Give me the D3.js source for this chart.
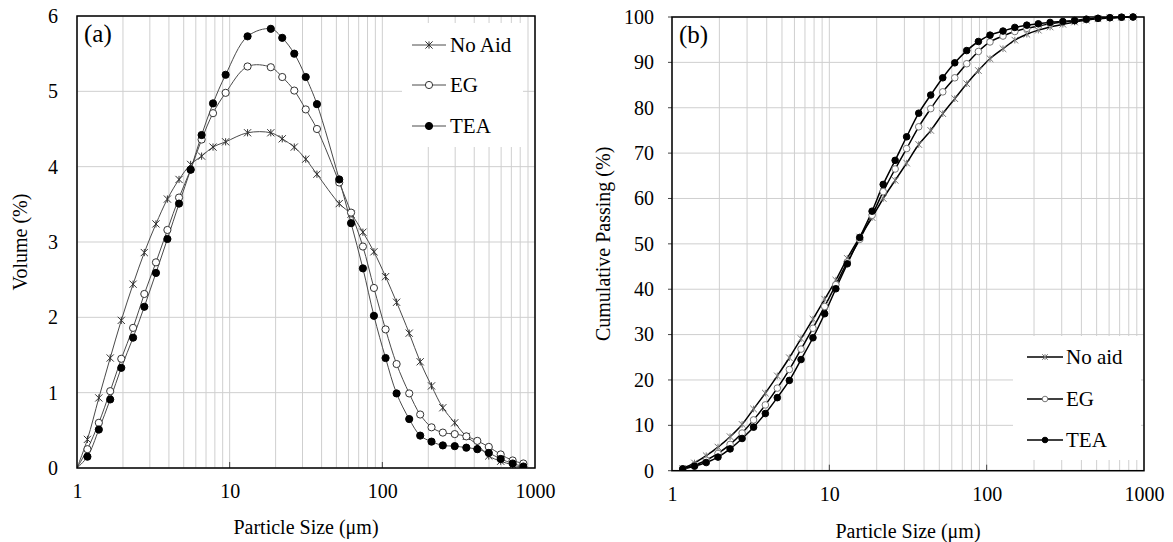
<!DOCTYPE html>
<html>
<head>
<meta charset="utf-8">
<script src="https://cdn.jsdelivr.net/npm/d3@7"></script>
<style>
  body { margin: 0; background: #fff; }
  svg text { font-family: "Liberation Serif", "Times New Roman", Times, "DejaVu Serif", serif !important; fill: #000; }
</style>
</head>
<body>
<script>
// panel (a) - volume distribution
const sizesA = [1, 1.17, 1.39, 1.65, 1.95, 2.33, 2.76, 3.29, 3.91, 4.66, 5.55, 6.55, 7.78, 9.41,
  13.1, 18.6, 22.1, 26.5, 31.5, 37.3,
  52.2, 62.4, 74.6, 88.1, 105, 124, 150, 177, 210, 249, 298, 355, 419, 498, 596, 714, 839];
const noAidA = [0, 0.38, 0.93, 1.46, 1.96, 2.44, 2.86, 3.24, 3.57, 3.83, 4.03, 4.14, 4.26, 4.33,
  4.45, 4.45, 4.37, 4.26, 4.10, 3.90,
  3.51, 3.37, 3.13, 2.87, 2.54, 2.20, 1.79, 1.41, 1.09, 0.80, 0.60, 0.42, 0.31, 0.16, 0.09, 0.04, 0.00];
const egA = [0, 0.25, 0.60, 1.02, 1.45, 1.86, 2.31, 2.73, 3.16, 3.59, 3.96, 4.36, 4.71, 4.98,
  5.33, 5.32, 5.19, 5.01, 4.76, 4.50,
  3.79, 3.39, 2.94, 2.39, 1.84, 1.38, 0.99, 0.71, 0.54, 0.47, 0.45, 0.42, 0.36, 0.28, 0.18, 0.10, 0.06];
const teaA = [0, 0.15, 0.51, 0.91, 1.33, 1.73, 2.14, 2.59, 3.04, 3.51, 3.96, 4.42, 4.84, 5.22,
  5.73, 5.83, 5.71, 5.50, 5.19, 4.83,
  3.83, 3.25, 2.65, 2.02, 1.46, 0.99, 0.65, 0.43, 0.35, 0.30, 0.29, 0.27, 0.25, 0.20, 0.12, 0.06, 0.02];

// panel (b) - cumulative passing
const sizesB = [1.17, 1.39, 1.65, 1.96, 2.34, 2.79, 3.30, 3.92, 4.67, 5.57, 6.61, 7.87, 9.34, 11.0,
  13.0, 15.6, 18.7, 22.0, 26.2, 31.0, 37.0, 44.1, 52.6, 62.7, 74.7, 88.6, 105, 127, 151, 180,
  213, 253, 305, 362, 430, 510, 607, 720, 852];
const noAidB = [0.5, 1.7, 3.3, 5.2, 7.5, 10.2, 13.6, 17.1, 20.9, 24.9, 29.1, 33.4, 37.8, 42.0,
  46.8, 51.5, 55.8, 60.0, 64.0, 67.8, 71.9, 75.0, 78.7, 82.0, 85.3, 88.2, 90.8, 93.0, 94.9, 96.2,
  97.1, 97.8, 98.4, 98.9, 99.3, 99.6, 99.8, 99.95, 100];
const egB = [0.4, 1.2, 2.3, 3.8, 5.8, 8.3, 11.2, 14.5, 18.2, 22.3, 26.8, 31.4, 36.2, 41.0,
  46.0, 51.0, 56.3, 61.5, 66.5, 71.0, 75.8, 79.8, 83.5, 86.6, 89.7, 92.4, 94.5, 95.8, 96.8, 97.5,
  98.0, 98.5, 98.9, 99.2, 99.5, 99.7, 99.85, 99.95, 100];
const teaB = [0.4, 1.0, 1.8, 3.0, 4.8, 7.1, 9.6, 12.6, 16.1, 19.9, 24.5, 29.3, 34.6, 40.1,
  45.6, 51.4, 57.2, 63.1, 68.4, 73.6, 78.8, 82.8, 86.6, 89.9, 92.6, 94.6, 96.0, 96.9, 97.7, 98.2,
  98.5, 98.8, 99.0, 99.2, 99.5, 99.7, 99.85, 99.95, 100];

const xTicks = [1, 10, 100, 1000];
const yTicksA = [0, 1, 2, 3, 4, 5, 6];
const yTicksB = [0, 10, 20, 30, 40, 50, 60, 70, 80, 90, 100];
const namesA = ["No Aid", "EG", "TEA"];
const namesB = ["No aid", "EG", "TEA"];
const markers = ["star", "open", "dot"];

const svg = d3.select("body").append("svg")
    .attr("width", 1173)
    .attr("height", 542);

function marker(g, type, x, y, r, stroke) {
  if (type === "star") {
    g.append("path")
      .attr("d", `M${x},${y - r}L${x},${y + r}M${x - r},${y - r}L${x + r},${y + r}M${x - r},${y + r}L${x + r},${y - r}`)
      .attr("stroke", stroke).attr("stroke-width", 1).attr("fill", "none");
  } else {
    g.append("circle")
      .attr("cx", x).attr("cy", y).attr("r", r)
      .attr("fill", type === "dot" ? "#000" : "#fff")
      .attr("stroke", type === "dot" ? "#000" : stroke)
      .attr("stroke-width", 1);
  }
}

function panel(o) {
  const x = d3.scaleLog().domain([1, 1000]).range([o.left, o.right]);
  const y = d3.scaleLinear().domain([0, o.ymax]).range([o.bottom, o.top]);
  const g = svg.append("g");

  // grid
  g.append("g").selectAll("line").data(x.ticks()).enter().append("line")
    .attr("x1", d => x(d)).attr("x2", d => x(d))
    .attr("y1", o.top).attr("y2", o.bottom)
    .attr("stroke", "#cfcfcf").attr("stroke-width", 1);
  g.append("g").selectAll("line").data(o.yTicks).enter().append("line")
    .attr("x1", o.left).attr("x2", o.right)
    .attr("y1", d => y(d)).attr("y2", d => y(d))
    .attr("stroke", "#cfcfcf").attr("stroke-width", 1);

  // legend background hides grid
  g.append("rect")
    .attr("x", o.leg.x).attr("y", o.leg.y)
    .attr("width", o.leg.w).attr("height", o.leg.h)
    .attr("fill", "#fff");

  // major x tick marks (inside)
  g.append("g").selectAll("line").data(xTicks.slice(1, 3)).enter().append("line")
    .attr("x1", d => x(d)).attr("x2", d => x(d))
    .attr("y1", o.bottom).attr("y2", o.bottom - 6)
    .attr("stroke", "#444").attr("stroke-width", 1);
  if (o.yTickOut) {
    g.append("g").selectAll("line").data(o.yTicks).enter().append("line")
      .attr("x1", o.left - 4).attr("x2", o.left)
      .attr("y1", d => y(d)).attr("y2", d => y(d))
      .attr("stroke", "#444").attr("stroke-width", 1);
  }

  // axes labels
  const xAxis = d3.axisBottom(x).tickValues(xTicks).tickFormat(d3.format("d")).tickSize(0).tickPadding(16);
  const xa = g.append("g").attr("transform", `translate(0,${o.bottom})`).call(xAxis);
  xa.select(".domain").remove();
  xa.attr("font-family", null);
  xa.selectAll("text").attr("font-size", 20);
  const yAxis = d3.axisLeft(y).tickValues(o.yTicks).tickFormat(d3.format("d")).tickSize(0).tickPadding(o.yPad);
  const ya = g.append("g").attr("transform", `translate(${o.left},0)`).call(yAxis);
  ya.select(".domain").remove();
  ya.attr("font-family", null);
  ya.selectAll("text").attr("font-size", 20);

  // series
  const line = d3.line().x(d => x(d[0])).y(d => y(d[1])).curve(d3.curveCatmullRom.alpha(0.5));
  const clip = "clip" + o.id;
  svg.append("clipPath").attr("id", clip).append("rect")
    .attr("x", o.left).attr("y", o.top - 4).attr("width", o.right - o.left + 4).attr("height", o.bottom - o.top + 4);
  const sg = g.append("g").attr("clip-path", `url(#${clip})`);
  o.series.forEach((vals, si) => {
    const pts = o.sizes.map((s, i) => [s, vals[i]]);
    sg.append("path").datum(pts).attr("d", line)
      .attr("fill", "none").attr("stroke", o.lineColor).attr("stroke-width", o.lineWidth);
  });
  o.series.forEach((vals, si) => {
    o.sizes.forEach((s, i) => {
      if (s <= 1) return;
      marker(sg, markers[si], x(s), y(vals[i]), o.mr, o.mStroke);
    });
  });

  // frame
  g.append("rect")
    .attr("x", o.left).attr("y", o.top)
    .attr("width", o.right - o.left).attr("height", o.bottom - o.top)
    .attr("fill", "none").attr("stroke", "#000").attr("stroke-width", 1.5);

  // legend
  o.names.forEach((n, i) => {
    const ly = o.leg.ey[i];
    g.append("line")
      .attr("x1", o.leg.lx1).attr("x2", o.leg.lx2).attr("y1", ly).attr("y2", ly)
      .attr("stroke", o.lineColor).attr("stroke-width", o.lineWidth);
    marker(g, markers[i], (o.leg.lx1 + o.leg.lx2) / 2, ly, o.leg.mr, o.mStroke);
    g.append("text").attr("x", o.leg.tx).attr("y", ly).attr("dy", "0.35em")
      .attr("font-size", 21).text(n);
  });

  // panel letter
  g.append("text").attr("x", o.left + 7).attr("y", o.top + 26)
    .attr("font-size", 25).text(o.letter);

  // titles
  g.append("text").attr("x", (o.left + o.right) / 2).attr("y", o.xTitleY)
    .attr("text-anchor", "middle").attr("font-size", 20).text("Particle Size (μm)");
  g.append("text")
    .attr("transform", `translate(${o.yTitleX},${(o.top + o.bottom) / 2}) rotate(-90)`)
    .attr("text-anchor", "middle").attr("font-size", 20).text(o.yTitle);
}

panel({
  id: "a", left: 77, right: 535, top: 16, bottom: 468, ymax: 6, yTicks: yTicksA, yPad: 19,
  sizes: sizesA, series: [noAidA, egA, teaA], names: namesA,
  lineColor: "#4a4a4a", lineWidth: 1, mr: 3.6, mStroke: "#333",
  leg: { x: 402, y: 23, w: 121, h: 124, ey: [45, 85, 126], lx1: 412, lx2: 446, tx: 450, mr: 3.6 },
  letter: "(a)", xTitleY: 534, yTitleX: 27, yTitle: "Volume (%)", yTickOut: false
});

panel({
  id: "b", left: 672, right: 1144, top: 17, bottom: 470.7, ymax: 100, yTicks: yTicksB, yPad: 18,
  sizes: sizesB, series: [noAidB, egB, teaB], names: namesB,
  lineColor: "#000", lineWidth: 1.5, mr: 3.3, mStroke: "#777",
  leg: { x: 1013, y: 336, w: 128, h: 124, ey: [357, 399, 440], lx1: 1027, lx2: 1063, tx: 1066, mr: 2.8 },
  letter: "(b)", xTitleY: 538, yTitleX: 610, yTitle: "Cumulative Passing (%)", yTickOut: true
});
</script>
</body>
</html>
